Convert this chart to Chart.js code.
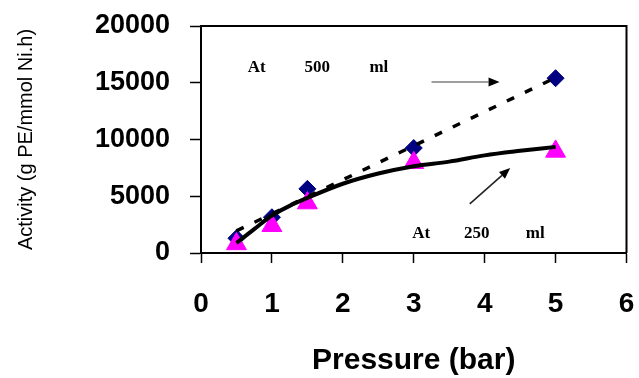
<!DOCTYPE html>
<html>
<head>
<meta charset="utf-8">
<script src="https://cdn.jsdelivr.net/npm/chart.js@4"></script>
<style>
    body { margin: 0; background: #fff; }
</style>
</head>
<body>
<canvas id="activityChart" width="639" height="378"></canvas>
<script>
// Activity vs pressure at two volumes
const pressures = [0.5, 1, 1.5, 3, 5];
const activity500 = [1300, 3150, 5650, 9250, 15400];
const activity250 = [800, 2400, 4400, 7950, 8950];

// trend lines
const trend500X = [0.5, 5];
const trend500Y = [1950, 15450];
const trend250X = [0.5, 0.75, 1, 1.25, 1.5, 2, 2.5, 3, 3.5, 4, 4.5, 5];
const trend250Y = [880, 2100, 3300, 4150, 4850, 6100, 7000, 7650, 8050, 8600, 9000, 9350];

// tick labels
const xTicks = [0, 1, 2, 3, 4, 5, 6];
const yTicks = [0, 5000, 10000, 15000, 20000];

// annotation words and arrows (data units)
const noteWords = ['At', '500', 'ml', 'At', '250', 'ml'];
const noteX = [0.66, 1.46, 2.375, 2.98, 3.71, 4.58];
const noteY = [15950, 15950, 15950, 1320, 1320, 1320];
const arrowFromX = [3.25, 3.79];
const arrowFromY = [15070, 4320];
const arrowToX = [4.21, 4.36];
const arrowToY = [15070, 7490];
const arrowColors = ['#7f7f7f', '#222222'];

Chart.defaults.font.family = '"Liberation Sans", Arial, sans-serif';
Chart.defaults.color = '#000';

const toPoints = (xs, ys) => xs.map((v, i) => ({ x: v, y: ys[i] }));

// top and right border of the plot box
const framePlugin = {
    id: 'frame',
    beforeDatasetsDraw(chart) {
        const { ctx, chartArea: a } = chart;
        ctx.save();
        ctx.strokeStyle = '#000';
        ctx.lineWidth = 2;
        ctx.beginPath();
        ctx.moveTo(a.left, a.top);
        ctx.lineTo(a.right, a.top);
        ctx.lineTo(a.right, a.bottom);
        ctx.stroke();
        ctx.restore();
    }
};

const notesPlugin = {
    id: 'notes',
    afterDatasetsDraw(chart) {
        const { ctx, scales: { x, y } } = chart;
        ctx.save();
        ctx.fillStyle = '#000';
        ctx.font = 'bold 17px "Liberation Serif", "Times New Roman", serif';
        ctx.textBaseline = 'alphabetic';
        noteWords.forEach((w, i) => {
            ctx.fillText(w, x.getPixelForValue(noteX[i]), y.getPixelForValue(noteY[i]));
        });
        arrowFromX.forEach((fx, i) => {
            const x0 = x.getPixelForValue(fx), y0 = y.getPixelForValue(arrowFromY[i]);
            const x1 = x.getPixelForValue(arrowToX[i]), y1 = y.getPixelForValue(arrowToY[i]);
            const ang = Math.atan2(y1 - y0, x1 - x0);
            const headLen = 11, headHalf = 4.5;
            const bx = x1 - headLen * Math.cos(ang), by = y1 - headLen * Math.sin(ang);
            ctx.strokeStyle = arrowColors[i];
            ctx.lineWidth = 1.6;
            ctx.beginPath();
            ctx.moveTo(x0, y0);
            ctx.lineTo(bx, by);
            ctx.stroke();
            ctx.fillStyle = '#000';
            ctx.beginPath();
            ctx.moveTo(x1, y1);
            ctx.lineTo(bx + headHalf * Math.sin(ang), by - headHalf * Math.cos(ang));
            ctx.lineTo(bx - headHalf * Math.sin(ang), by + headHalf * Math.cos(ang));
            ctx.closePath();
            ctx.fill();
        });
        ctx.restore();
    }
};

new Chart(document.getElementById('activityChart'), {
    type: 'scatter',
    data: {
        datasets: [
            {
                type: 'line',
                label: 'trend 250 ml',
                data: toPoints(trend250X, trend250Y),
                borderColor: '#000',
                borderWidth: 4,
                pointRadius: 0,
                cubicInterpolationMode: 'monotone',
                fill: false
            },
            {
                type: 'line',
                label: 'trend 500 ml',
                data: toPoints(trend500X, trend500Y),
                borderColor: '#000',
                borderWidth: 3.5,
                borderDash: [8, 12],
                pointRadius: 0,
                fill: false
            },
            {
                label: '250 ml',
                data: toPoints(pressures, activity250),
                pointStyle: 'triangle',
                pointRadius: 11.5,
                backgroundColor: '#ff00ff',
                borderColor: '#ff00ff',
                borderWidth: 1
            },
            {
                label: '500 ml',
                data: toPoints(pressures, activity500),
                pointStyle: 'rectRot',
                pointRadius: 8.5,
                backgroundColor: '#000080',
                borderColor: '#000080',
                borderWidth: 1
            }
        ]
    },
    options: {
        responsive: false,
        animation: false,
        layout: {
            padding: { top: 26, right: 11, left: 0, bottom: 0 }
        },
        plugins: {
            legend: { display: false },
            tooltip: { enabled: false }
        },
        scales: {
            x: {
                type: 'linear',
                min: 0,
                max: 6,
                afterBuildTicks: s => { s.ticks = xTicks.map(v => ({ value: v })); },
                afterFit: s => {
                    s.height = 125;
                    s.paddingLeft = 0;
                    s.paddingRight = 0;
                },
                ticks: {
                    font: { size: 28, weight: 'bold' },
                    padding: 24,
                    color: '#000'
                },
                grid: {
                    drawOnChartArea: false,
                    tickLength: 10,
                    tickColor: '#000',
                    tickWidth: 1.5
                },
                border: { color: '#000', width: 2 },
                title: {
                    display: true,
                    text: 'Pressure (bar)',
                    font: { size: 30, weight: 'bold', lineHeight: 1 },
                    padding: { top: 0, bottom: 2 },
                    color: '#000'
                }
            },
            y: {
                min: 0,
                max: 20000,
                afterBuildTicks: s => { s.ticks = yTicks.map(v => ({ value: v })); },
                afterFit: s => {
                    s.width = 201;
                    s.paddingTop = 0;
                    s.paddingBottom = 0;
                },
                ticks: {
                    font: { size: 27, weight: 'bold' },
                    padding: 20,
                    color: '#000',
                    callback: v => String(v)
                },
                grid: {
                    drawOnChartArea: false,
                    tickLength: 11,
                    tickColor: '#000',
                    tickWidth: 1.5
                },
                border: { color: '#000', width: 2 },
                title: {
                    display: true,
                    text: 'Activity (g PE/mmol Ni.h)',
                    font: { size: 20, lineHeight: 1.2 },
                    padding: { top: 14, bottom: 0 },
                    color: '#000'
                }
            }
        }
    },
    plugins: [framePlugin, notesPlugin]
});
</script>
</body>
</html>
